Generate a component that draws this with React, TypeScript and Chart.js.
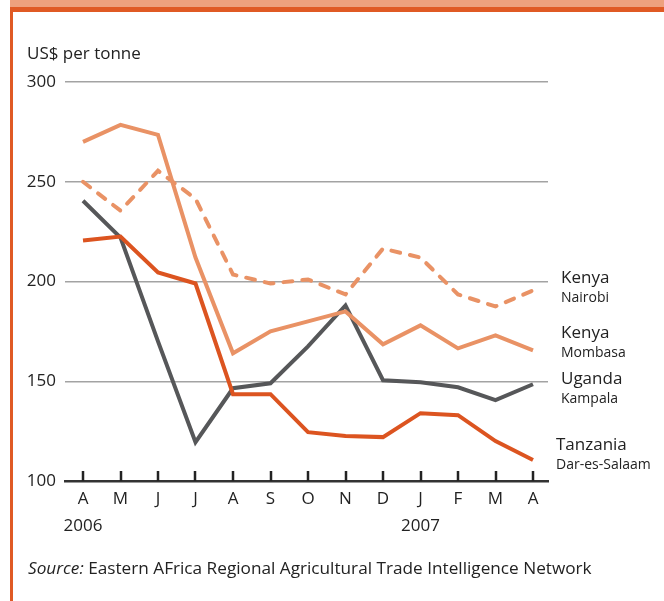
import React, { useEffect, useRef } from "react";
import { Chart, registerables } from "chart.js";

Chart.register(...registerables);

const months = ["A", "M", "J", "J", "A", "S", "O", "N", "D", "J", "F", "M", "A"];
const years = ["2006", "", "", "", "", "", "", "", "", "2007", "", "", ""];
const yTicks = [100, 150, 200, 250, 300];

const kenyaNairobi = [250, 235.5, 255.5, 241.5, 203.5, 199, 201, 193.5, 216.5, 212, 193.5, 187.5, 195.5];
const kenyaMombasa = [270, 278.5, 273.5, 212, 164, 175, 180, 185, 168.5, 178, 166.5, 173, 165.5];
const ugandaKampala = [240.5, 222, 170, 119.5, 146.5, 149, 167.5, 188, 150.5, 149.5, 147, 140.5, 148.5];
const tanzaniaDar = [220.5, 222.5, 204.5, 199, 143.5, 143.5, 124.5, 122.5, 122, 134, 133, 120, 110.5];

const countryNames = ["Kenya", "Kenya", "Uganda", "Tanzania"];
const cityNames = ["Nairobi", "Mombasa", "Kampala", "Dar-es-Salaam"];
const labelAnchorValues = [201.5, 174, 151, 118];
const labelIndents = [13, 13, 13, 8];

const LIGHT = "#E99265";
const DARK = "#DC5420";
const GREY = "#565759";
const TEXT = "#222222";
const FONT = '"Open Sans", "DejaVu Sans", sans-serif';

const toXY = (arr: number[]) => arr.map((y, i) => ({ x: i, y }));

const innerTicks = {
  id: "innerTicks",
  afterDraw(chart: any) {
    const { ctx, chartArea, scales } = chart;
    const xs = scales.x;
    ctx.save();
    ctx.strokeStyle = TEXT;
    ctx.lineWidth = 2.5;
    ctx.beginPath();
    xs.ticks.forEach((t: any) => {
      const px = Math.round(xs.getPixelForValue(t.value));
      ctx.moveTo(px, chartArea.bottom);
      ctx.lineTo(px, chartArea.bottom - 10);
    });
    ctx.stroke();
    ctx.restore();
  },
};

const endLabels = {
  id: "endLabels",
  afterDraw(chart: any) {
    const { ctx, chartArea, scales } = chart;
    const ys = scales.y;
    ctx.save();
    ctx.fillStyle = TEXT;
    ctx.textAlign = "left";
    ctx.textBaseline = "middle";
    countryNames.forEach((name, i) => {
      const yy = ys.getPixelForValue(labelAnchorValues[i]);
      const x = chartArea.right + labelIndents[i];
      ctx.font = `17px ${FONT}`;
      ctx.fillText(name, x, yy);
      ctx.font = `14px ${FONT}`;
      ctx.fillText(cityNames[i], x, yy + 20);
    });
    ctx.restore();
  },
};

export default function App() {
  const canvasRef = useRef<HTMLCanvasElement | null>(null);

  useEffect(() => {
    if (!canvasRef.current) return;
    const common = {
      borderWidth: 4,
      pointRadius: 0,
      tension: 0,
      fill: false,
      borderJoinStyle: "miter" as const,
    };
    const chart = new Chart(canvasRef.current, {
      type: "line",
      data: {
        datasets: [
          { ...common, label: "Tanzania", data: toXY(tanzaniaDar), borderColor: DARK, order: 0 },
          { ...common, label: "Kenya Mombasa", data: toXY(kenyaMombasa), borderColor: LIGHT, order: 1 },
          {
            ...common,
            label: "Kenya Nairobi",
            data: toXY(kenyaNairobi),
            borderColor: LIGHT,
            borderDash: [9, 10],
            borderCapStyle: "round" as const,
            order: 2,
          },
          { ...common, label: "Uganda", data: toXY(ugandaKampala), borderColor: GREY, order: 3 },
        ],
      },
      options: {
        responsive: false,
        animation: false,
        devicePixelRatio: 1,
        layout: { padding: { top: 82, right: 116, bottom: 0, left: 0 } },
        plugins: { legend: { display: false }, tooltip: { enabled: false } },
        scales: {
          x: {
            type: "linear",
            min: -0.48,
            max: 12.4,
            afterBuildTicks: (s: any) => {
              s.ticks = months.map((_, i) => ({ value: i }));
            },
            afterFit: (s: any) => {
              s.height = 120;
            },
            grid: { display: false, drawTicks: false, tickLength: 0 },
            border: { display: true, color: "#333333", width: 2.5 },
            ticks: {
              autoSkip: false,
              maxRotation: 0,
              padding: 5,
              color: TEXT,
              font: { family: FONT, size: 17, lineHeight: 27 / 17 },
              callback: (v: any) => {
                const i = Math.round(Number(v));
                return [months[i] ?? "", years[i] ?? ""];
              },
            },
          },
          y: {
            type: "linear",
            min: 100,
            max: 300,
            afterBuildTicks: (s: any) => {
              s.ticks = yTicks.map((v) => ({ value: v }));
            },
            afterFit: (s: any) => {
              s.width = 65;
            },
            grid: {
              drawTicks: false,
              lineWidth: 1.5,
              color: (c: any) => (c.tick && c.tick.value === 100 ? "rgba(0,0,0,0)" : "#a3a3a3"),
            },
            border: { display: false },
            ticks: {
              padding: 9,
              color: TEXT,
              font: { family: FONT, size: 17 },
            },
          },
        },
      },
      plugins: [innerTicks, endLabels],
    });
    return () => chart.destroy();
  }, []);

  return (
    <div
      style={{
        position: "absolute",
        left: 0,
        top: 0,
        width: 664,
        height: 601,
        background: "#ffffff",
        overflow: "hidden",
        fontFamily: FONT,
        color: TEXT,
      }}
    >
      <div style={{ position: "absolute", left: 10, top: 0, width: 654, height: 7, background: "#EEA17D" }} />
      <div style={{ position: "absolute", left: 10, top: 7, width: 654, height: 5, background: "#E05A24" }} />
      <div style={{ position: "absolute", left: 10, top: 7, width: 3, height: 594, background: "#E05A24" }} />
      <canvas
        ref={canvasRef}
        width={664}
        height={601}
        style={{ position: "absolute", left: 0, top: 0, width: 664, height: 601 }}
      />
      <div style={{ position: "absolute", left: 27, top: 42, fontSize: 17, lineHeight: "22px", whiteSpace: "nowrap" }}>
        US$ per tonne
      </div>
      <div style={{ position: "absolute", left: 28, top: 557, fontSize: 17.2, lineHeight: "22px", whiteSpace: "nowrap" }}>
        <i>Source:</i> Eastern AFrica Regional Agricultural Trade Intelligence Network
      </div>
    </div>
  );
}
